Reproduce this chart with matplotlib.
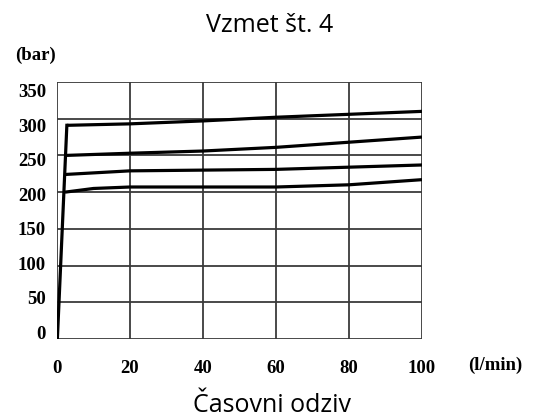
import matplotlib
matplotlib.use("Agg")
import matplotlib.pyplot as plt

# Data
x_ticks = [0, 20, 40, 60, 80, 100]
y_ticks = [0, 50, 100, 150, 200, 250, 300, 350]

rise_x = [0.1, 2.7]
rise_y = [0, 291]

c1_x = [2.7, 20, 40, 60, 80, 100]
c1_y = [291, 293, 297, 302, 306, 310]
c2_x = [2.3, 20, 40, 60, 80, 100]
c2_y = [250, 253, 256, 261, 268, 275]
c3_x = [2.0, 20, 40, 60, 80, 100]
c3_y = [224, 229, 230, 231, 234, 237]
c4_x = [2.2, 10, 20, 40, 60, 80, 100]
c4_y = [200, 205, 207, 207, 207, 210, 217]

fig = plt.figure(figsize=(5.35, 4.17), dpi=100)
ax = fig.add_axes([57/535, 1-339/417, (422-57)/535, (339-82)/417])
ax.set_xlim(0, 100)
ax.set_ylim(0, 350)

grid_c = '#3a3a3a'
for v in y_ticks:
    ax.axhline(v, color=grid_c, lw=1.3, zorder=1)
for v in x_ticks:
    ax.axvline(v, color=grid_c, lw=1.3, zorder=1)
for s in ax.spines.values():
    s.set_visible(False)

lw = 2.3
ax.plot(rise_x, rise_y, color='black', lw=lw, zorder=3)
for xs, ys in [(c1_x, c1_y), (c2_x, c2_y), (c3_x, c3_y), (c4_x, c4_y)]:
    ax.plot(xs, ys, color='black', lw=lw, zorder=3, solid_capstyle='butt')

tick_font = dict(family='Liberation Serif', weight='bold', size=13.5)
ax.set_xticks(x_ticks)
ax.set_xticklabels([str(v) for v in x_ticks], fontdict=tick_font)
ax.tick_params(axis='x', length=0, pad=15)
ax.set_yticks([])

# y labels slightly compressed relative to grid, as in the scan
sec = ax.secondary_yaxis('left', functions=(lambda p: (p - 9.5) / 0.9386,
                                            lambda v: 9.5 + 0.9386 * v))
sec.set_yticks(y_ticks)
sec.set_yticklabels([str(v) for v in y_ticks], fontdict=tick_font)
sec.tick_params(length=0, pad=8)
for s in sec.spines.values():
    s.set_visible(False)

fig.text(35/535, 1-55/417, '(bar)', ha='center', va='center', **tick_font)
fig.text(495/535, 1-365/417, '(l/min)', ha='center', va='center', **tick_font)

fig.text(270/535, 1-32/417, 'Vzmet št. 4', ha='center', va='baseline',
         family='Open Sans', size=18)
fig.text(272/535, 1-412/417, 'Časovni odziv', ha='center', va='baseline',
         family='Open Sans', size=18)

fig.savefig('out.png', dpi=100, facecolor='white')
